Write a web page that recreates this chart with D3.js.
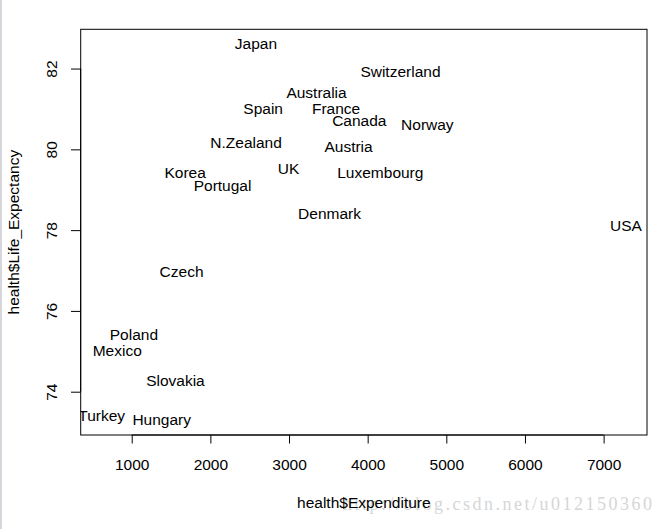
<!DOCTYPE html>
<html>
<head>
<meta charset="utf-8">
<script src="https://cdn.jsdelivr.net/npm/d3@7"></script>
<style>
  html, body { margin: 0; padding: 0; background: #fff; }
  svg { display: block; }
  text { font-family: "Liberation Sans", Arial, sans-serif; fill: #000; }
</style>
</head>
<body>
<script>
// ---- data ----
const countries = ["Japan", "Switzerland", "Australia", "Spain", "France", "Canada", "Norway",
  "N.Zealand", "Austria", "Korea", "Portugal", "UK", "Luxembourg", "Denmark", "USA",
  "Czech", "Poland", "Mexico", "Slovakia", "Turkey", "Hungary"];
const expenditure = [2580, 4417, 3350, 2671, 3598, 3894, 4759,
  2454, 3757, 1680, 2155, 2994, 4161, 3515, 7285,
  1634, 1028, 816, 1556, 618, 1381];
const lifeExpectancy = [82.6, 81.9, 81.4, 81.0, 81.0, 80.7, 80.6,
  80.15, 80.05, 79.4, 79.1, 79.5, 79.4, 78.4, 78.1,
  76.95, 75.4, 75.0, 74.25, 73.4, 73.3];
const xTicks = [1000, 2000, 3000, 4000, 5000, 6000, 7000];
const yTicks = [74, 76, 78, 80, 82];
const xTitle = "health$Expenditure";
const yTitle = "health$Life_Expectancy";
const watermark = "http://blog.csdn.net/u012150360";

// ---- layout ----
const W = 665, H = 529;
const plot = { left: 80.7, right: 647, top: 29.3, bottom: 435 };
const fs = 15.5;

function rRange(vals) {
  const mn = d3.min(vals), mx = d3.max(vals);
  const pad = (mx - mn) * 0.04;
  return [mn - pad, mx + pad];
}

const x = d3.scaleLinear().domain(rRange(expenditure)).range([plot.left, plot.right]);
const y = d3.scaleLinear().domain(rRange(lifeExpectancy)).range([plot.bottom, plot.top]);

const svg = d3.select("body").append("svg").attr("width", W).attr("height", H);

// left grey edge of the screenshot
svg.append("rect").attr("x", 0).attr("y", 0).attr("width", 2).attr("height", H).attr("fill", "#d6d6dc");

// clip for plot region
svg.append("clipPath").attr("id", "pclip").append("rect")
  .attr("x", plot.left).attr("y", plot.top)
  .attr("width", plot.right - plot.left).attr("height", plot.bottom - plot.top);

// watermark (behind)
svg.append("text")
  .attr("x", 343).attr("y", 510)
  .attr("textLength", 309).attr("lengthAdjust", "spacing")
  .style("font-family", "'Liberation Serif', 'DejaVu Serif', serif")
  .style("font-size", "18px")
  .style("fill", "#d6d6d6")
  .text(watermark);

// x axis
const xAxis = d3.axisBottom(x).tickValues(xTicks).tickSize(8.5).tickPadding(0).tickFormat(d3.format("d"));
const gx = svg.append("g").attr("transform", `translate(0,${plot.bottom})`).call(xAxis);
gx.select(".domain").attr("d", `M${x(xTicks[0])},0H${x(xTicks[xTicks.length-1])}`).attr("stroke", "#000");
gx.selectAll(".tick line").attr("stroke", "#000");
gx.selectAll(".tick text")
  .attr("y", 35).attr("dy", null)
  .style("font-size", fs + "px").style("font-family", "'Liberation Sans', Arial, sans-serif")
  .attr("fill", "#000");

// y axis
const yAxis = d3.axisLeft(y).tickValues(yTicks).tickSize(9.7).tickPadding(0).tickFormat(d3.format("d"));
const gy = svg.append("g").attr("transform", `translate(${plot.left},0)`).call(yAxis);
gy.select(".domain").attr("d", `M0,${y(yTicks[0])}V${y(yTicks[yTicks.length-1])}`).attr("stroke", "#000");
gy.selectAll(".tick line").attr("stroke", "#000");
gy.selectAll(".tick text")
  .attr("x", null).attr("dy", null)
  .attr("text-anchor", "middle")
  .attr("transform", `translate(${57.5 - plot.left},0) rotate(-90)`)
  .style("font-size", fs + "px").style("font-family", "'Liberation Sans', Arial, sans-serif")
  .attr("fill", "#000");

// plot box
svg.append("rect")
  .attr("x", plot.left).attr("y", plot.top)
  .attr("width", plot.right - plot.left).attr("height", plot.bottom - plot.top)
  .attr("fill", "none").attr("stroke", "#000").attr("stroke-width", 1);

// labels
const pts = countries.map((c, i) => ({ name: c, ex: expenditure[i], le: lifeExpectancy[i] }));
svg.append("g").attr("clip-path", "url(#pclip)")
  .selectAll("text").data(pts).join("text")
  .attr("x", d => x(d.ex))
  .attr("y", d => y(d.le) + fs * 0.31)
  .attr("text-anchor", "middle")
  .style("font-size", fs + "px")
  .text(d => d.name);

// axis titles
svg.append("text")
  .attr("x", (plot.left + plot.right) / 2).attr("y", 507.7)
  .attr("text-anchor", "middle").style("font-size", fs + "px")
  .text(xTitle);

svg.append("text")
  .attr("transform", `translate(18.5,${(plot.top + plot.bottom) / 2}) rotate(-90)`)
  .attr("text-anchor", "middle").style("font-size", fs + "px")
  .text(yTitle);
</script>
</body>
</html>
